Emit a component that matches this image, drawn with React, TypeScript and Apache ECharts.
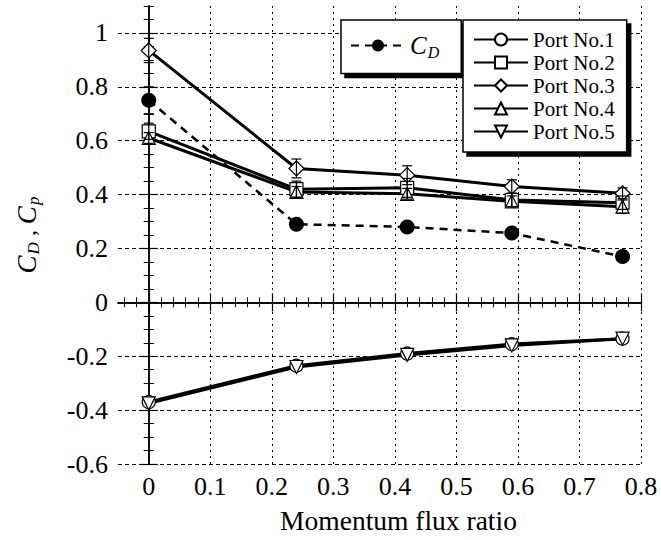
import React, { useEffect, useRef } from "react";
import * as echarts from "echarts";

const X = [0, 0.24, 0.42, 0.59, 0.77];
const CD = [0.75, 0.29, 0.28, 0.257, 0.17];
const CD_ERR = [0.05, 0, 0, 0, 0];
const PORT1 = [-0.37, -0.235, -0.19, -0.155, -0.135];
const PORT2 = [0.635, 0.42, 0.425, 0.38, 0.37];
const PORT2_ERR = [0.03, 0.03, 0.035, 0.025, 0.025];
const PORT3 = [0.935, 0.497, 0.472, 0.43, 0.405];
const PORT3_ERR = [0.045, 0.035, 0.035, 0.025, 0.02];
const PORT4 = [0.61, 0.41, 0.403, 0.375, 0.355];
const PORT4_ERR = [0.02, 0.02, 0.02, 0.02, 0.025];
const PORT5 = [-0.375, -0.24, -0.195, -0.16, -0.135];

const X_TICKS = [0, 0.1, 0.2, 0.3, 0.4, 0.5, 0.6, 0.7, 0.8];
const Y_TICKS = [-0.6, -0.4, -0.2, 0, 0.2, 0.4, 0.6, 0.8, 1];
const X_MIN = -0.05, X_MAX = 0.8, Y_MIN = -0.6, Y_MAX = 1.1;

const FONT = "'Liberation Serif', 'Times New Roman', serif";

const xMinor: number[] = [];
for (let i = -2; i <= 40; i++) xMinor.push(Math.round(i * 2) / 100);
const yMinor: number[] = [];
for (let i = -11; i <= 22; i++) yMinor.push(Math.round(i * 5) / 100);

const downTri = "path://M0,0 L10,0 L5,9 Z";

function pts(vals: number[]) {
  return X.map((x, i) => [x, vals[i]]);
}
function errs(vals: number[], e: number[]) {
  return X.map((x, i) => [x, vals[i] - e[i], vals[i] + e[i]]).filter((_, i) => e[i] > 0);
}

const errRender = (params: any, api: any) => {
  const x = api.value(0);
  const lo = api.coord([x, api.value(1)]);
  const hi = api.coord([x, api.value(2)]);
  const st = { stroke: "#000", lineWidth: 1.2 };
  return {
    type: "group",
    children: [
      { type: "line", shape: { x1: lo[0], y1: lo[1], x2: hi[0], y2: hi[1] }, style: st },
      { type: "line", shape: { x1: lo[0] - 5, y1: lo[1], x2: lo[0] + 5, y2: lo[1] }, style: st },
      { type: "line", shape: { x1: hi[0] - 5, y1: hi[1], x2: hi[0] + 5, y2: hi[1] }, style: st },
    ],
  };
};

const txt = (size: number, extra: any = {}) => ({ fontFamily: FONT, fontSize: size, color: "#000", ...extra });

function majorAxisX(pos: string, labels: boolean) {
  return {
    type: "value", position: pos, min: X_MIN, max: X_MAX, splitNumber: 8,
    axisLine: { show: true, lineStyle: { color: "#000", width: 1.5 } },
    axisTick: { show: true, inside: true, length: 9, customValues: X_TICKS, lineStyle: { color: "#000", width: 1.2 } },
    axisLabel: labels
      ? { show: true, customValues: X_TICKS, margin: 9, ...txt(26), formatter: (v: number) => String(Math.round(v * 10) / 10) }
      : { show: false },
    splitLine: labels ? { show: true, lineStyle: { color: "#000", width: 1, type: [2, 4] } } : { show: false },
    name: labels ? "Momentum flux ratio" : "",
    nameLocation: "middle", nameGap: 42,
    nameTextStyle: txt(27.5, { padding: [0, 0, 0, 38] }),
  };
}
function minorAxisX(pos: string) {
  return {
    type: "value", position: pos, min: X_MIN, max: X_MAX,
    axisLine: { show: false }, axisLabel: { show: false }, splitLine: { show: false },
    axisTick: { show: true, inside: true, length: 5, customValues: xMinor, lineStyle: { color: "#000", width: 1 } },
  };
}
function majorAxisY(pos: string, labels: boolean) {
  return {
    type: "value", position: pos, min: Y_MIN, max: Y_MAX, splitNumber: 8,
    axisLine: { show: true, lineStyle: { color: "#000", width: 1.5 } },
    axisTick: { show: true, inside: true, length: 9, customValues: Y_TICKS, lineStyle: { color: "#000", width: 1.2 } },
    axisLabel: labels
      ? { show: true, customValues: Y_TICKS, margin: 10, ...txt(26), formatter: (v: number) => String(Math.round(v * 10) / 10) }
      : { show: false },
    splitLine: labels ? { show: true, lineStyle: { color: "#000", width: 1, type: [4, 3] } } : { show: false },
    name: labels ? "{i|C}{s|D}{n| , }{i|C}{s|p}" : "",
    nameLocation: "middle", nameGap: 76, nameRotate: 90,
    nameTextStyle: {
      ...txt(26),
      rich: {
        i: txt(27, { fontStyle: "italic" }),
        s: txt(17, { fontStyle: "italic", padding: [14, 0, 0, 1] }),
        n: txt(24),
      },
    },
  };
}
function minorAxisY(pos: string) {
  return {
    type: "value", position: pos, min: Y_MIN, max: Y_MAX,
    axisLine: { show: false }, axisLabel: { show: false }, splitLine: { show: false },
    axisTick: { show: true, inside: true, length: 5, customValues: yMinor, lineStyle: { color: "#000", width: 1 } },
  };
}

function portSeries(name: string, vals: number[], symbol: string, size: number) {
  return {
    name, type: "line", data: pts(vals), symbol, symbolSize: size, z: 4,
    xAxisIndex: 0, yAxisIndex: 0,
    lineStyle: { color: "#000", width: 3 },
    itemStyle: { color: "#fff", borderColor: "#000", borderWidth: 1.2 },
  };
}
function errSeries(name: string, vals: number[], e: number[]) {
  return {
    name, type: "custom", data: errs(vals, e), renderItem: errRender, z: 6, silent: true,
    xAxisIndex: 0, yAxisIndex: 0, encode: { x: 0, y: [1, 2] },
  };
}

export default function App() {
  const ref = useRef<HTMLDivElement>(null);
  useEffect(() => {
    document.body.style.margin = "0";
    const chart = echarts.init(ref.current!, null, { renderer: "svg" });
    const legendBox = {
      orient: "vertical", backgroundColor: "#fff", borderColor: "#000", borderWidth: 1.5,
      shadowColor: "#000", shadowBlur: 0, shadowOffsetX: 4, shadowOffsetY: 4,
      borderRadius: 0, itemWidth: 54, itemHeight: 15, itemGap: 2,
      textStyle: txt(21, { lineHeight: 21 }),
      selectedMode: false,
    };
    chart.setOption({
      animation: false,
      backgroundColor: "#fff",
      textStyle: { fontFamily: FONT },
      grid: { left: 118, right: 20, top: 6, bottom: 76, outerBoundsMode: "none" },
      xAxis: [majorAxisX("bottom", true), minorAxisX("bottom"), majorAxisX("top", false), minorAxisX("top")],
      yAxis: [majorAxisY("left", true), minorAxisY("left"), majorAxisY("right", false), minorAxisY("right")],
      legend: [
        {
          ...legendBox, left: 341, top: 20, padding: [13, 22, 13, 9], data: ["CD"],
          formatter: () => "{i|C}{s|D}",
          textStyle: {
            ...txt(21),
            rich: {
              i: txt(25, { fontStyle: "italic" }),
              s: txt(16, { fontStyle: "italic", padding: [14, 0, 0, 1] }),
            },
          },
        },
        {
          ...legendBox, left: 463, top: 20, padding: [9, 12, 10, 10],
          data: ["Port No.1", "Port No.2", "Port No.3", "Port No.4", "Port No.5"],
        },
      ],
      series: [
        {
          name: "CD", type: "line", data: pts(CD), symbol: "circle", symbolSize: 15, z: 5,
          xAxisIndex: 0, yAxisIndex: 0,
          lineStyle: { color: "#000", width: 2.5, type: [8, 6] },
          itemStyle: { color: "#000" },
        },
        portSeries("Port No.1", PORT1, "circle", 13),
        portSeries("Port No.2", PORT2, "rect", 13),
        portSeries("Port No.3", PORT3, "diamond", 15),
        portSeries("Port No.4", PORT4, "triangle", 13),
        portSeries("Port No.5", PORT5, downTri, 13),
        errSeries("errCD", CD, CD_ERR),
        errSeries("err2", PORT2, PORT2_ERR),
        errSeries("err3", PORT3, PORT3_ERR),
        errSeries("err4", PORT4, PORT4_ERR),
      ],
    });
    return () => chart.dispose();
  }, []);
  return <div ref={ref} style={{ width: 661, height: 540 }} />;
}
